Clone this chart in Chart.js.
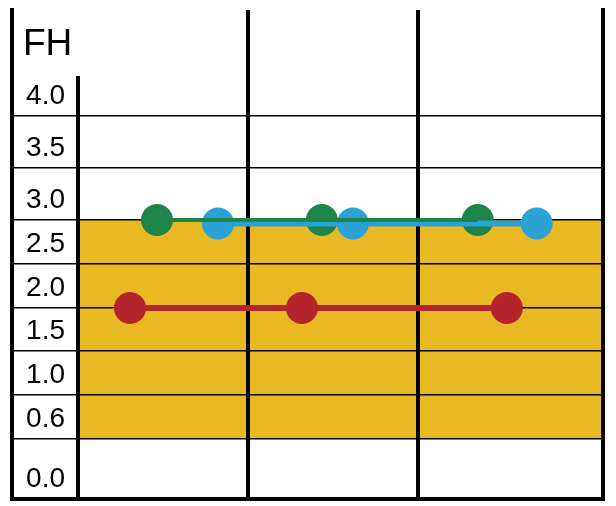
<!DOCTYPE html>
<html>
<head>
<meta charset="utf-8">
<script src="https://cdn.jsdelivr.net/npm/chart.js@4/dist/chart.umd.min.js"></script>
<style>
  body { margin: 0; background: #fff; }
</style>
</head>
<body>
<canvas id="fhChart" width="616" height="506"></canvas>
<script>
    // tick values on the left column (uneven rows)
    var yTicks = [0, 0.6, 1.0, 1.5, 2.0, 2.5, 3.0, 3.5, 4.0];
    var yMax = 5.0;
    var xDividers = [1, 2];
    var xMax = 3.09;

    // normal band
    var bandLow = 0.6;
    var bandHigh = 3.0;

    var greenX = [0.465, 1.435, 2.353];
    var greenY = [3.0, 3.0, 3.0];
    var blueX = [0.824, 1.618, 2.70];
    var blueY = [2.96, 2.96, 2.96];
    var redX = [0.306, 1.318, 2.524];
    var redY = [2.0, 2.0, 2.0];

    // row heights of the table, bottom to top (layout only)
    var rowWeights = [60, 44, 44, 43, 44, 44, 52, 52, 106];

    function toPoints(xs, ys) {
      return xs.map(function (x, i) { return { x: x, y: ys[i] }; });
    }

    // linear scale whose rows have their own heights
    class RowScale extends Chart.LinearScale {
      static id = 'rows';
      buildTicks() {
        return yTicks.map(function (v) { return { value: v }; });
      }
      _stops() {
        return yTicks.concat([yMax]);
      }
      getPixelForValue(value) {
        if (value === null || isNaN(value)) return NaN;
        var stops = this._stops();
        var total = rowWeights.reduce(function (a, b) { return a + b; }, 0);
        var acc = 0;
        for (var i = 0; i < rowWeights.length; i++) {
          if (value <= stops[i + 1] || i === rowWeights.length - 1) {
            var f = (value - stops[i]) / (stops[i + 1] - stops[i]);
            return this.getPixelForDecimal((acc + f * rowWeights[i]) / total);
          }
          acc += rowWeights[i];
        }
        return NaN;
      }
      getValueForPixel(pixel) {
        var stops = this._stops();
        var total = rowWeights.reduce(function (a, b) { return a + b; }, 0);
        var d = this.getDecimalForPixel(pixel) * total;
        var acc = 0;
        for (var i = 0; i < rowWeights.length; i++) {
          if (d <= acc + rowWeights[i] || i === rowWeights.length - 1) {
            return stops[i] + (d - acc) / rowWeights[i] * (stops[i + 1] - stops[i]);
          }
          acc += rowWeights[i];
        }
        return NaN;
      }
    }
    Chart.register(RowScale);

    var bandPlugin = {
      id: 'band',
      beforeDraw: function (chart) {
        var ctx = chart.ctx, area = chart.chartArea, y = chart.scales.y;
        var top = y.getPixelForValue(bandHigh);
        var bottom = y.getPixelForValue(bandLow);
        ctx.save();
        ctx.fillStyle = '#E8B923';
        ctx.fillRect(area.left, top, area.right - area.left, bottom - top);
        ctx.restore();
      }
    };

    var framePlugin = {
      id: 'frame',
      afterDatasetsDraw: function (chart) {
        var ctx = chart.ctx, area = chart.chartArea;
        var outer = area.left - 66;
        ctx.save();
        ctx.strokeStyle = '#000';
        ctx.lineWidth = 4;
        ctx.lineCap = 'square';
        ctx.beginPath();
        ctx.moveTo(outer, area.top);
        ctx.lineTo(outer, area.bottom);
        ctx.lineTo(area.right, area.bottom);
        ctx.lineTo(area.right, area.top);
        ctx.moveTo(area.left, 78);
        ctx.lineTo(area.left, area.bottom);
        ctx.stroke();
        ctx.fillStyle = '#000';
        ctx.font = '37px Liberation Sans, sans-serif';
        ctx.textBaseline = 'alphabetic';
        ctx.fillText('FH', 23, 55);
        ctx.restore();
      }
    };

    var fhChart = new Chart(document.getElementById('fhChart'), {
      type: 'scatter',
      data: {
        datasets: [{
          label: 'green line',
          data: toPoints(greenX, greenY),
          showLine: true,
          borderColor: '#1E8449',
          borderWidth: 4,
          pointRadius: 0
        }, {
          label: 'blue',
          data: toPoints(blueX, blueY),
          showLine: true,
          borderColor: '#2AA2D6',
          backgroundColor: '#2AA2D6',
          borderWidth: 6,
          pointRadius: 16,
          pointBorderWidth: 0
        }, {
          label: 'green',
          data: toPoints(greenX, greenY),
          showLine: false,
          backgroundColor: '#1E8449',
          pointRadius: 16,
          pointBorderWidth: 0
        }, {
          label: 'red',
          data: toPoints(redX, redY),
          showLine: true,
          borderColor: '#B5232D',
          backgroundColor: '#B5232D',
          borderWidth: 6,
          pointRadius: 16,
          pointBorderWidth: 0
        }]
      },
      options: {
        responsive: false,
        animation: false,
        layout: { autoPadding: false, padding: { top: 10, right: 13, bottom: 7, left: 0 } },
        plugins: {
          legend: { display: false },
          tooltip: { enabled: false }
        },
        scales: {
          x: {
            type: 'linear',
            min: 0,
            max: xMax,
            afterBuildTicks: function (scale) {
              scale.ticks = xDividers.map(function (v) { return { value: v }; });
            },
            afterFit: function (scale) {
              scale.height = 0;
              scale.paddingLeft = 0;
              scale.paddingRight = 0;
            },
            ticks: { display: false },
            grid: { color: '#000', lineWidth: 4, drawTicks: false },
            border: { display: false }
          },
          y: {
            type: 'rows',
            min: 0,
            max: yMax,
            afterFit: function (scale) {
              scale.width = 78;
              scale.paddingTop = 0;
              scale.paddingBottom = 0;
            },
            ticks: {
              color: '#000',
              font: { family: 'Liberation Sans', size: 28 },
              padding: -53,
              labelOffset: -20,
              callback: function (v) { return Number(v).toFixed(1); }
            },
            grid: { color: '#000', lineWidth: 1.5, drawTicks: true, tickLength: 66 },
            border: { display: false }
          }
        }
      },
      plugins: [bandPlugin, framePlugin]
    });
</script>
</body>
</html>
